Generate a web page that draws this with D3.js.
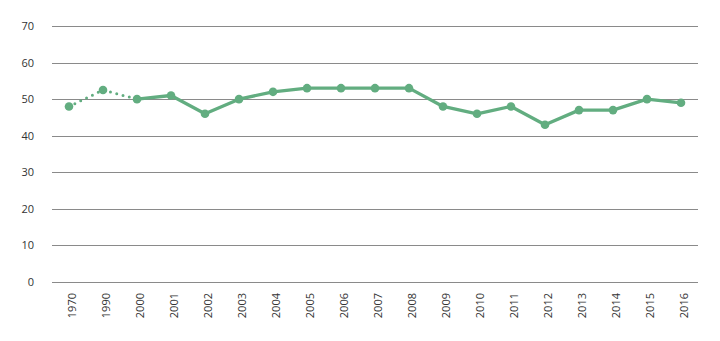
<!DOCTYPE html>
<html><head><meta charset="utf-8">
<script src="https://cdn.jsdelivr.net/npm/d3@7"></script>
<style>body{margin:0;background:#fff;} text{font-family:"Open Sans",sans-serif;}</style>
</head><body><svg id="c" width="720" height="341"></svg>
<script>
const categories = ["1970","1990","2000","2001","2002","2003","2004","2005","2006","2007","2008","2009","2010","2011","2012","2013","2014","2015","2016"];
const values = [48,52.5,50,51,46,50,52,53,53,53,53,48,46,48,43,47,47,50,49];
const yTicks = [0,10,20,30,40,50,60,70];
const dottedUntil = 2; // index where solid line starts

const svg = d3.select("#c");
const x = d3.scaleBand().domain(categories).range([52,698]);
const y = d3.scaleLinear().domain([0,70]).range([282,26]);
const color = "#62ad80";

const g = svg.append("g");
yTicks.forEach(t=>{
  g.append("line").attr("x1",52).attr("x2",698).attr("y1",Math.round(y(t))+0.5).attr("y2",Math.round(y(t))+0.5)
   .attr("stroke","#8a8a8a").attr("stroke-width",1);
  g.append("text").attr("x",34).attr("y",Math.round(y(t))+4).attr("text-anchor","end")
   .attr("font-size",11).attr("fill","#333").text(t);
});
categories.forEach(c=>{
  const cx = x(c)+x.bandwidth()/2;
  g.append("text").attr("transform",`translate(${cx+7},293) rotate(-90)`).attr("text-anchor","end")
   .attr("font-size",11).attr("fill","#333").text(c);
});
const pts = categories.map((c,i)=>({c,v:values[i],i}));
const line = d3.line().x(d=>x(d.c)+x.bandwidth()/2).y(d=>y(d.v));
svg.append("path").datum(pts.slice(0,dottedUntil+1)).attr("d",line).attr("fill","none")
  .attr("stroke",color).attr("stroke-width",3).attr("stroke-dasharray","0,6.5").attr("stroke-linecap","round");
svg.append("path").datum(pts.slice(dottedUntil)).attr("d",line).attr("fill","none")
  .attr("stroke",color).attr("stroke-width",3.3).attr("stroke-linejoin","round");
svg.selectAll("circle").data(pts).enter().append("circle")
  .attr("cx",d=>x(d.c)+x.bandwidth()/2).attr("cy",d=>y(d.v)).attr("r",4.3).attr("fill",color);
</script></body></html>
